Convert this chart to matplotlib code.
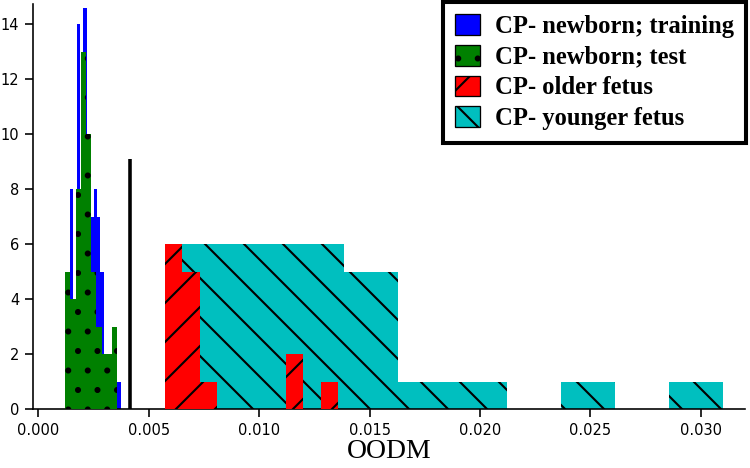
import numpy as np
import matplotlib
matplotlib.use("Agg")
import matplotlib.pyplot as plt
from matplotlib.patches import Patch
from matplotlib.font_manager import FontProperties
from matplotlib.ticker import FormatStrFormatter

plt.rcParams["hatch.linewidth"] = 1.3

# ---- data ----
train_range = (0.001418, 0.003729)
train_counts = [8, 3, 14, 6, 14.6, 9, 7, 8, 7, 5, 2, 1, 2, 1, 1]

test_range = (0.001214, 0.003570)
test_counts = [5, 4, 8, 13, 10, 5, 3, 2, 2, 3]

older_range = (0.005732, 0.013570)
older_counts = [6, 5, 1, 0, 0, 0, 0, 2, 0, 1]

younger_range = (0.006502, 0.031014)
younger_counts = [6, 6, 6, 5, 1, 1, 0, 1, 0, 1]

threshold_x = 0.004146
threshold_top = 9.1

legend_labels = ["CP- newborn; training", "CP- newborn; test",
                 "CP- older fetus", "CP- younger fetus"]
xticks = [0.000, 0.005, 0.010, 0.015, 0.020, 0.025, 0.030]
yticks = [0, 2, 4, 6, 8, 10, 12, 14]
x_label = "OODM"

# ---- figure ----
DPI = 117
W, H = 750, 468
fig = plt.figure(figsize=(W / DPI, H / DPI), dpi=DPI)
ax = fig.add_axes([33 / W, 1 - 409 / H, (745 - 33) / W, (409 - 4) / H])


def draw_hist(rng, counts, color, hatch, z):
    counts = np.asarray(counts, dtype=float)
    edges = np.linspace(rng[0], rng[1], len(counts) + 1)
    centers = 0.5 * (edges[:-1] + edges[1:])
    ax.hist(centers, bins=edges, weights=counts, histtype="stepfilled",
            facecolor=color, edgecolor="black", linewidth=0, hatch=hatch,
            zorder=z)


draw_hist(train_range, train_counts, "#0000ff", None, 2)
draw_hist(test_range, test_counts, "#008000", ".", 3)
draw_hist(younger_range, younger_counts, "#00bfbf", "\\", 2)
draw_hist(older_range, older_counts, "#ff0000", "/", 3)

ax.vlines(threshold_x, 0, threshold_top, color="black", linewidth=2.2, zorder=4)

ax.set_xlim(-0.000249, 0.03201)
ax.set_ylim(0, 14.74)
ax.set_xticks(xticks)
ax.set_yticks(yticks)
ax.xaxis.set_major_formatter(FormatStrFormatter("%.3f"))
ax.tick_params(labelsize=9, width=1.0, length=5)
for s in ["top", "right"]:
    ax.spines[s].set_visible(False)
for s in ["left", "bottom"]:
    ax.spines[s].set_linewidth(1.0)

ax.set_xlabel(x_label, family="Liberation Serif", fontsize=17, labelpad=1)

handles = [
    Patch(facecolor="#0000ff", edgecolor="black", linewidth=0.8),
    Patch(facecolor="#008000", edgecolor="black", linewidth=0.8, hatch="."),
    Patch(facecolor="#ff0000", edgecolor="black", linewidth=0.8, hatch="/"),
    Patch(facecolor="#00bfbf", edgecolor="black", linewidth=0.8, hatch="\\"),
]
leg = ax.legend(handles, legend_labels, loc="upper right",
                bbox_to_anchor=(746 / W, 1 - 2 / H), bbox_transform=fig.transFigure,
                prop=FontProperties(family="Liberation Serif", weight="bold", size=15.2),
                frameon=True, fancybox=False, framealpha=1, edgecolor="black",
                handlelength=1.0, handleheight=0.9, handletextpad=0.6,
                labelspacing=0.28, borderpad=0.5, borderaxespad=0)
leg.get_frame().set_linewidth(2.5)

fig.savefig("out.png", dpi=DPI)
